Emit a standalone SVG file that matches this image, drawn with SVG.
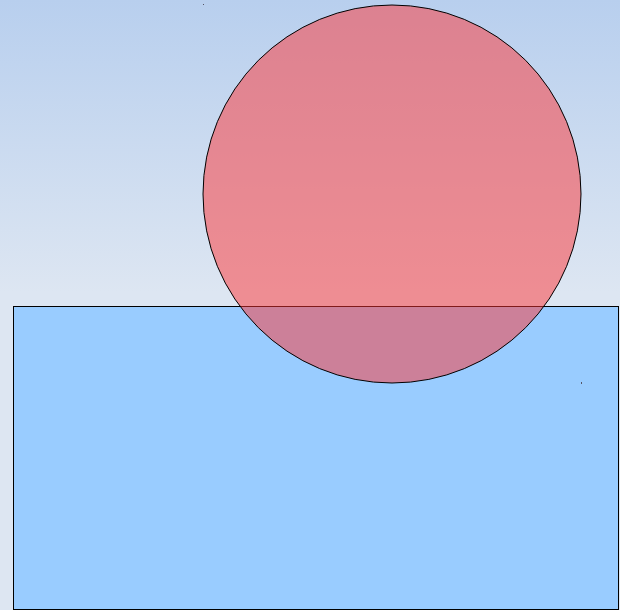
<svg xmlns="http://www.w3.org/2000/svg" width="620" height="610" viewBox="0 0 620 610">
<defs>
<linearGradient id="bg" x1="0" y1="0" x2="0" y2="610" gradientUnits="userSpaceOnUse">
<stop offset="0" stop-color="#b8cfee"/>
<stop offset="0.48" stop-color="#dde6f2"/>
<stop offset="1" stop-color="#dde6f2"/>
</linearGradient>
<style>
.shape{stroke:#000;stroke-width:1}
</style>
</defs>
<rect x="0" y="0" width="620" height="610" fill="url(#bg)"/>
<g id="rect-node">
<rect class="shape" x="13.5" y="306.5" width="605" height="303" fill="#99ccff"/>
</g>
<g id="circle-node">
<circle class="shape" cx="392" cy="194" r="189" fill="#ff3333" fill-opacity="0.5"/>
</g>
<g id="connectors"></g>
<rect x="203" y="4" width="1" height="1" fill="#556"/>
<rect x="581" y="382" width="1" height="2" fill="#556"/>
</svg>
